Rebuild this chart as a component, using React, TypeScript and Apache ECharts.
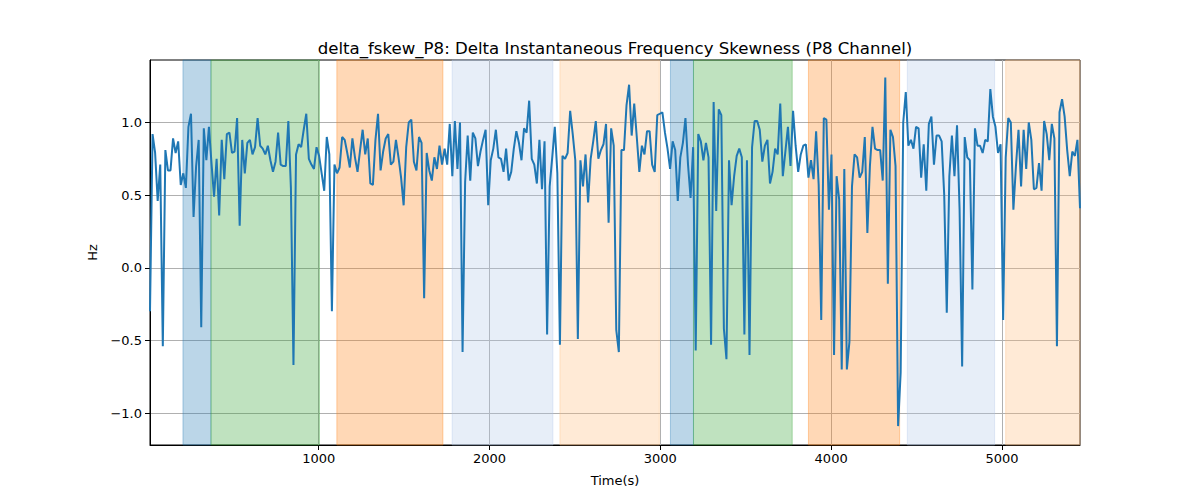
import React, { useEffect, useRef } from "react";
import * as echarts from "echarts";

const TITLE = "delta_fskew_P8: Delta Instantaneous Frequency Skewness (P8 Channel)";
const X_NAME = "Time(s)";
const Y_NAME = "Hz";

// sampling of the signal (seconds)
const T_START = 12;
const T_STEP = 15;

const VALUES: number[] = [
  -0.3, 0.92, 0.79, 0.46, 0.71, -0.54, 0.81, 0.67, 0.67, 0.89,
  0.79, 0.87, 0.57, 0.65, 0.55, 0.97, 1.06, 0.35, 0.70, 0.88,
  -0.41, 0.96, 0.74, 0.97, 0.72, 0.49, 0.75, 0.36, 0.88, 0.61,
  0.92, 0.93, 0.79, 0.80, 1.03, 0.29, 0.88, 0.65, 0.86, 0.88,
  0.78, 0.83, 1.03, 0.84, 0.82, 0.78, 0.84, 0.74, 0.66, 0.73,
  0.93, 0.71, 0.70, 0.70, 1.01, 0.55, -0.67, 0.78, 0.85, 0.83,
  0.95, 1.06, 0.75, 0.71, 0.68, 0.83, 0.77, 0.65, 0.53, 0.90,
  0.78, -0.30, 0.71, 0.65, 0.69, 0.90, 0.88, 0.79, 0.69, 0.89,
  0.76, 0.66, 0.81, 0.95, 0.78, 0.89, 0.58, 0.57, 0.88, 1.06,
  0.67, 0.80, 0.89, 0.92, 0.71, 0.73, 0.88, 0.76, 0.62, 0.43,
  0.83, 1.00, 1.02, 0.73, 0.67, 0.90, 0.86, -0.21, 0.79, 0.67,
  0.60, 0.76, 0.68, 0.84, 0.71, 0.82, 0.71, 0.99, 0.63, 1.01,
  0.68, 1.00, -0.58, 0.59, 0.91, 0.60, 0.93, 0.89, 0.70, 0.80,
  0.88, 0.95, 0.43, 0.74, 0.82, 0.95, 0.76, 0.75, 0.66, 0.82,
  0.60, 0.66, 0.82, 0.94, 0.86, 0.74, 0.96, 0.93, 1.15, 0.75,
  0.71, 0.58, 0.88, 0.54, 0.87, -0.46, 0.56, 0.76, 0.97, 0.65,
  -0.53, 0.77, 0.75, 0.79, 1.08, 0.92, 0.74, -0.49, 0.74, 0.56,
  0.78, 0.45, 0.75, 0.87, 1.01, 0.75, 0.81, 0.85, 0.99, 0.31,
  0.96, 0.84, -0.43, -0.58, 0.81, 0.81, 1.12, 1.26, 0.91, 1.13,
  0.90, 0.66, 0.84, 0.78, 0.94, 0.94, 0.71, 0.66, 1.05, 1.06,
  1.07, 0.93, 0.82, 0.68, 0.87, 0.81, 0.46, 0.76, 0.86, 1.03,
  0.71, 0.48, 0.83, -0.57, 0.92, 0.87, 0.74, 0.86, 0.76, -0.53,
  1.14, 0.39, 1.09, 1.05, -0.42, -0.63, 0.74, 0.43, 0.63, 0.77,
  0.82, 0.76, -0.46, 0.74, -0.60, 0.83, 1.01, 1.01, 0.95, 0.73,
  0.84, 0.88, 0.58, 0.66, 0.82, 0.78, 1.13, 0.63, 0.80, 0.97,
  0.70, 1.08, 0.84, 0.66, 0.78, 0.84, 0.85, 0.62, 0.74, 0.61,
  0.94, 0.57, -0.36, 1.03, 1.02, 0.40, 0.78, -0.60, 0.63, 0.47,
  -0.70, 0.68, -0.70, -0.51, 0.56, 0.78, 0.76, 0.62, 0.66, 0.90,
  0.24, 0.70, 0.97, 0.82, 0.81, 0.81, 0.60, 1.31, -0.11, 0.95,
  0.90, 0.70, -1.09, -0.72, 1.00, 1.21, 0.84, 0.88, 0.82, 0.97,
  0.96, 0.62, 0.85, 0.53, 0.99, 1.04, 0.71, 0.91, 0.91, 0.87,
  0.50, -0.31, 0.63, 0.91, 0.63, 0.98, 0.40, -0.68, 0.90, 0.76,
  0.74, -0.15, 0.96, 0.84, 0.84, 0.79, 0.88, 0.87, 1.23, 1.04,
  0.97, 0.79, 0.85, -0.36, 0.76, 1.03, 1.00, 0.40, 0.70, 0.95,
  0.56, 0.95, 0.68, 1.00, 0.88, 0.54, 0.55, 0.72, 0.53, 1.01,
  0.92, 0.74, 0.99, 0.89, -0.54, 1.07, 1.16, 1.04, 0.81, 0.63,
  0.80, 0.77, 0.88, 0.41,
];

// shaded spans (seconds)
const BAND_START = [205, 369, 1106, 1781, 2412, 3059, 3194, 3867, 4446, 5022];
const BAND_END = [369, 1004, 1727, 2371, 2994, 3194, 3772, 4401, 4957, 5457];
const BAND_KIND = ["blue", "green", "orange", "lightblue", "lightorange", "blue", "green", "orange", "lightblue", "lightorange"];

const X_TICKS = [1000, 2000, 3000, 4000, 5000];
const Y_TICKS = [-1.0, -0.5, 0.0, 0.5, 1.0];

const X_MIN = 12;
const X_MAX = 5457;
const Y_MIN = -1.22;
const Y_MAX = 1.43;

const BAND_COLORS: Record<string, { fill: string; edge: string }> = {
  blue: { fill: "rgba(31,119,180,0.3)", edge: "rgba(31,119,180,0.35)" },
  green: { fill: "rgba(44,160,44,0.3)", edge: "rgba(44,160,44,0.35)" },
  orange: { fill: "rgba(255,127,14,0.3)", edge: "rgba(255,127,14,0.35)" },
  lightblue: { fill: "rgba(174,199,232,0.3)", edge: "rgba(174,199,232,0.35)" },
  lightorange: { fill: "rgba(255,187,120,0.3)", edge: "rgba(255,187,120,0.35)" },
};

const FONT = "DejaVu Sans";

export default function App() {
  const ref = useRef<HTMLDivElement>(null);

  useEffect(() => {
    document.body.style.margin = "0";
    if (!ref.current) return;
    const chart = echarts.init(ref.current, undefined, { renderer: "svg" });

    const seriesData = VALUES.map((v, i) => [T_START + i * T_STEP, v]);
    const bands = BAND_START.map((s, i) => {
      const c = BAND_COLORS[BAND_KIND[i]];
      return [
        { xAxis: s, itemStyle: { color: c.fill, borderColor: c.edge, borderWidth: 1 } },
        { xAxis: BAND_END[i] },
      ];
    });

    const fmtMinus = (v: number, digits: number) =>
      v.toFixed(digits).replace("-", "\u2212");

    chart.setOption({
      animation: false,
      backgroundColor: "#ffffff",
      textStyle: { fontFamily: FONT },
      title: {
        text: TITLE,
        left: 610,
        textAlign: "center",
        top: 35,
        textStyle: { fontFamily: FONT, fontSize: 16.6, fontWeight: "normal", color: "#000" },
      },
      grid: {
        left: 150,
        right: 120,
        top: 60,
        bottom: 55,
        show: true,
        borderColor: "#000",
        borderWidth: 1,
        backgroundColor: "transparent",
      },
      xAxis: {
        type: "value",
        min: X_MIN,
        max: X_MAX,
        name: X_NAME,
        nameLocation: "middle",
        nameGap: 29,
        nameTextStyle: { fontFamily: FONT, fontSize: 13, color: "#000" },
        axisLine: { show: true, onZero: false, lineStyle: { color: "#000", width: 1 } },
        axisTick: { show: true, inside: false, length: 5, customValues: X_TICKS, lineStyle: { color: "#000" } },
        axisLabel: {
          show: true,
          customValues: X_TICKS,
          margin: 7,
          fontFamily: FONT,
          fontSize: 13,
          color: "#000",
          formatter: (v: number) => String(v),
        },
        splitLine: { show: true, lineStyle: { color: "#b0b0b0", width: 1 } },
      },
      yAxis: {
        type: "value",
        min: Y_MIN,
        max: Y_MAX,
        name: Y_NAME,
        nameLocation: "middle",
        nameGap: 51,
        nameRotate: 90,
        nameTextStyle: { fontFamily: FONT, fontSize: 13, color: "#000" },
        axisLine: { show: true, onZero: false, lineStyle: { color: "#000", width: 1 } },
        axisTick: { show: true, inside: false, length: 5, customValues: Y_TICKS, lineStyle: { color: "#000" } },
        axisLabel: {
          show: true,
          customValues: Y_TICKS,
          margin: 8,
          fontFamily: FONT,
          fontSize: 13,
          color: "#000",
          formatter: (v: number) => fmtMinus(v, 1),
        },
        splitLine: { show: true, lineStyle: { color: "#b0b0b0", width: 1 } },
      },
      series: [
        {
          type: "line",
          data: seriesData,
          showSymbol: false,
          symbol: "none",
          lineStyle: { color: "#1f77b4", width: 2 },
          z: 3,
          markArea: {
            silent: true,
            z: 1,
            data: bands,
          },
        },
      ],
    });

    return () => {
      chart.dispose();
    };
  }, []);

  return <div ref={ref} style={{ width: 1200, height: 500 }} />;
}
